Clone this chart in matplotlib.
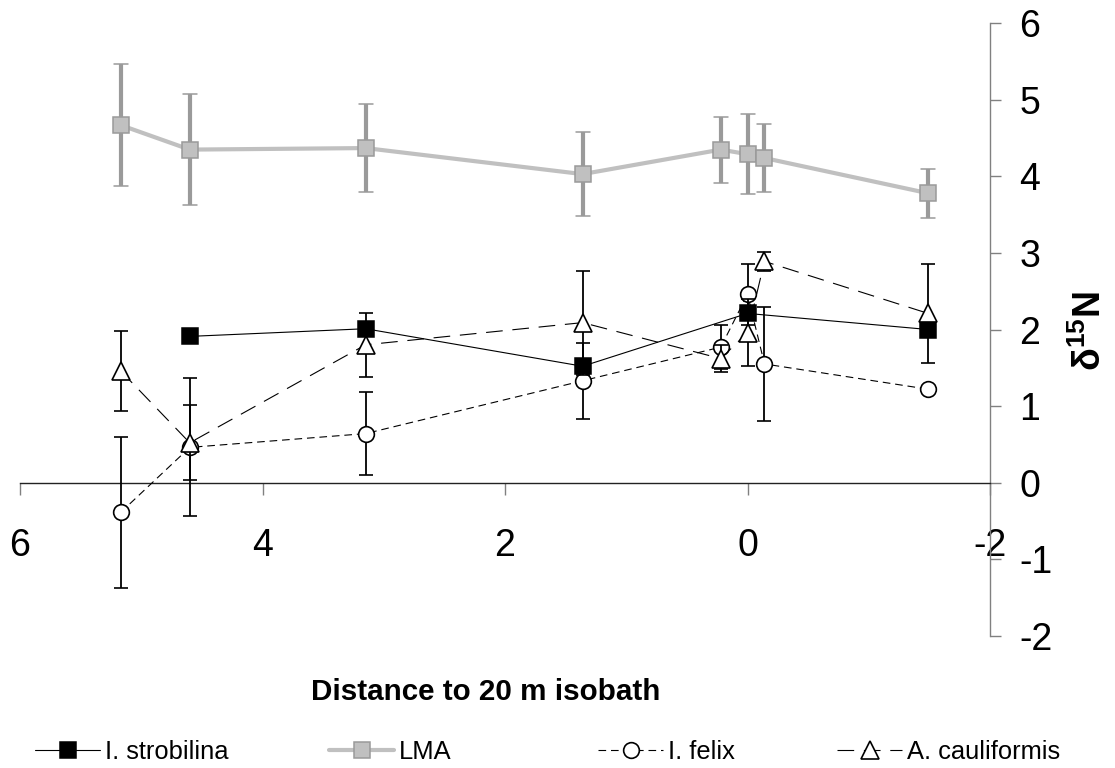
import matplotlib
matplotlib.use("Agg")
import matplotlib.pyplot as plt
from matplotlib.markers import MarkerStyle

plt.rcParams["font.family"] = ["Liberation Sans", "DejaVu Sans"]
plt.rcParams["mathtext.fontset"] = "custom"
plt.rcParams["mathtext.rm"] = "Liberation Sans"
plt.rcParams["mathtext.bf"] = "Liberation Sans:bold"
plt.rcParams["axes.unicode_minus"] = False
plt.rcParams["lines.scale_dashes"] = False

# Distance to the 20 m isobath for each sampling site
dist_all = [5.17, 4.60, 3.15, 1.36, 0.22, 0.00, -0.14, -1.49]

# LMA
lma_mean = [4.67, 4.35, 4.37, 4.03, 4.35, 4.29, 4.24, 3.78]
lma_err = [0.80, 0.73, 0.57, 0.55, 0.43, 0.52, 0.45, 0.32]

# I. strobilina
strob_dist = [4.60, 3.15, 1.36, 0.00, -1.49]
strob_mean = [1.91, 2.01, 1.52, 2.21, 2.00]

# I. felix
felix_mean = [-0.39, 0.46, 0.64, 1.33, 1.77, 2.46, 1.55, 1.22]
felix_err = [0.99, 0.90, 0.54, 0.50, 0.29, 0.40, 0.74, 0.00]

# A. cauliformis
cauli_mean = [1.46, 0.52, 1.80, 2.09, 1.62, 1.96, 2.89, 2.21]
cauli_err = [0.52, 0.49, 0.42, 0.68, 0.18, 0.44, 0.12, 0.65]

x_ticks = [6, 4, 2, 0, -2]
y_ticks = [-2, -1, 0, 1, 2, 3, 4, 5, 6]

W, H = 1115, 768
fig = plt.figure(figsize=(W / 100, H / 100), dpi=100)
ax = fig.add_axes([20 / W, (H - 635.7) / H, 970 / W, 612.4 / H])
ax.set_xlim(6, -2)
ax.set_ylim(-2, 6)


def round_caps(container):
    for cl in container.lines[1]:
        cl.set_marker(MarkerStyle("_", capstyle="round"))


# I. strobilina: solid line, filled black squares
strob = ax.errorbar(strob_dist, strob_mean, fmt="-", color="black", lw=0.8,
                    marker="s", ms=12, mfc="black", mec="black", mew=1.1,
                    zorder=3)

# LMA: thick grey line with grey squares and heavy error bars
lma = ax.errorbar(dist_all, lma_mean, yerr=lma_err, fmt="-", color="#C0C0C0",
                  lw=3, marker="s", ms=12, mfc="#C0C0C0", mec="#9A9A9A",
                  mew=1.1, ecolor="#9A9A9A", elinewidth=3, capsize=4.7,
                  capthick=3, zorder=4)
lma.lines[0].set_solid_capstyle("round")
round_caps(lma)

# I. felix: short dashes, open circles
felix = ax.errorbar(dist_all, felix_mean, yerr=felix_err, color="black",
                    lw=0.8, ls=(0, (5.5, 3.5)), marker="o", ms=11.3,
                    mfc="white", mec="black", mew=1.2, ecolor="black",
                    elinewidth=1.3, capsize=5, capthick=1.3, zorder=5)

# A. cauliformis: long dashes, open triangles
cauli = ax.errorbar(dist_all, cauli_mean, yerr=cauli_err, color="black",
                    lw=0.8, ls=(0, (12, 7)), marker="^", ms=12.5,
                    mfc="white", mec="black", mew=1.2, ecolor="black",
                    elinewidth=1.3, capsize=5, capthick=1.3, zorder=6)

# Axes: x axis crossing at y = 0, y axis on the right at x = -2
ax.spines["left"].set_visible(False)
ax.spines["top"].set_visible(False)
ax.spines["bottom"].set_position(("data", 0))
ax.spines["bottom"].set_color("#222222")
ax.spines["bottom"].set_linewidth(1)
ax.spines["right"].set_color("#808080")
ax.spines["right"].set_linewidth(1)

ax.yaxis.tick_right()
ax.set_xticks(x_ticks)
ax.set_xticklabels([str(v) for v in x_ticks])
ax.set_yticks(y_ticks)
ax.set_yticklabels([str(v) for v in y_ticks])
ax.tick_params(axis="x", direction="out", length=8.6, width=1,
               color="#808080", pad=24, labelsize=27)
ax.tick_params(axis="y", direction="out", length=8, width=1,
               color="#808080", pad=13, labelsize=27)

fig.text(1090 / W, 1 - 331 / H, r"δ$^{\mathbf{15}}$N", rotation=90,
         fontsize=27, fontweight="bold", ha="center", va="center")
fig.text(486 / W, 1 - 692 / H, "Distance to 20 m isobath", fontsize=21.3,
         fontweight="bold", ha="center", va="center")

# Legend entries laid out along the bottom edge
entries = [
    (strob.lines[0], "I. strobilina", 35),
    (lma.lines[0], "LMA", 329),
    (felix.lines[0], "I. felix", 598),
    (cauli.lines[0], "A. cauliformis", 837),
]
fs = 18.4
for handle, label, x0 in entries:
    leg = fig.legend([handle], [label], loc="center left",
                     bbox_to_anchor=(x0 / W, 1 - 752 / H), frameon=False,
                     borderpad=0, borderaxespad=0, fontsize=fs,
                     handlelength=65 / (fs * 100 / 72), handletextpad=0.2,
                     numpoints=1)
    for ln in leg.get_lines():
        ln.set_solid_capstyle("round")

fig.savefig("out.png", dpi=100)
